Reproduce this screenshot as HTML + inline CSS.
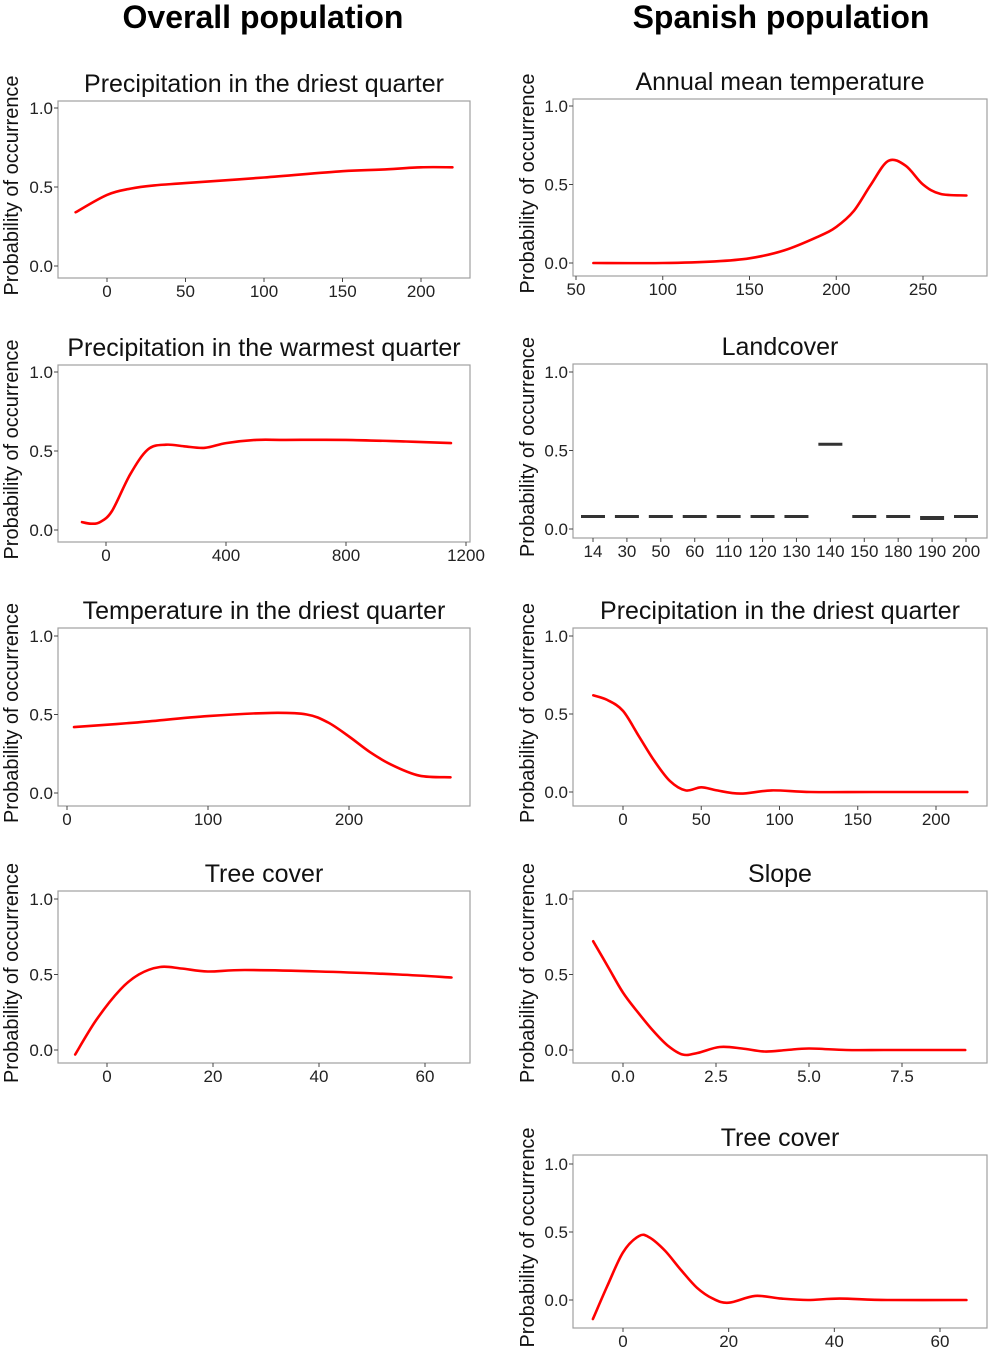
<!DOCTYPE html>
<html><head><meta charset="utf-8">
<style>
html,body{margin:0;padding:0;background:#fff;}
svg{display:block;font-family:"Liberation Sans",sans-serif;}
</style></head>
<body>
<svg id="fig" width="990" height="1358" viewBox="0 0 990 1358" xmlns="http://www.w3.org/2000/svg">
<text x="263" y="28" text-anchor="middle" font-size="32" font-weight="bold" fill="#000">Overall population</text>
<text x="781" y="28" text-anchor="middle" font-size="32" font-weight="bold" fill="#000">Spanish population</text>
</svg>
<script>
// ---- data arrays ----
const p1X=[-20,0,15,30,50,100,150,175,200,220];
const p1Y=[0.34,0.45,0.49,0.51,0.525,0.56,0.60,0.61,0.625,0.625];
const p1Ticks=[0,50,100,150,200];
const p2X=[-80,-50,-20,20,80,140,200,260,330,400,500,600,800,1000,1150];
const p2Y=[0.05,0.04,0.05,0.12,0.35,0.51,0.54,0.53,0.52,0.55,0.57,0.57,0.57,0.56,0.55];
const p2Ticks=[0,400,800,1200];
const p3X=[5,50,100,145,170,185,200,215,230,250,272];
const p3Y=[0.42,0.45,0.49,0.51,0.50,0.45,0.36,0.26,0.18,0.11,0.10];
const p3Ticks=[0,100,200];
const p4X=[-6,-2,2.5,6,10,14,19,26,40,55,65];
const p4Y=[-0.03,0.2,0.4,0.5,0.55,0.54,0.52,0.53,0.52,0.5,0.48];
const p4Ticks=[0,20,40,60];
const r1X=[60,100,130,150,170,190,200,210,220,230,240,250,260,275];
const r1Y=[0,0,0.01,0.03,0.08,0.17,0.23,0.33,0.5,0.65,0.62,0.5,0.44,0.43];
const r1Ticks=[50,100,150,200,250];
const landCats=["14","30","50","60","110","120","130","140","150","180","190","200"];
const landVals=[0.08,0.08,0.08,0.08,0.08,0.08,0.08,0.54,0.08,0.08,0.07,0.08];
const r3X=[-19,-10,0,10,20,30,40,50,60,75,95,120,160,220];
const r3Y=[0.62,0.59,0.52,0.36,0.2,0.07,0.01,0.03,0.01,-0.01,0.01,0,0,0];
const r3Ticks=[0,50,100,150,200];
const r4X=[-0.8,-0.4,0,0.4,0.8,1.2,1.6,2.0,2.6,3.2,3.8,4.4,5.0,6,7,8,9.2];
const r4Y=[0.72,0.55,0.38,0.25,0.13,0.03,-0.03,-0.02,0.02,0.01,-0.01,0,0.01,0,0,0,0];
const r4Ticks=[0,2.5,5,7.5];
const r4Labels=["0.0","2.5","5.0","7.5"];
const r5X=[-5.7,-3,0,3,5,8,11,14,17,20,25,30,35,41,50,65];
const r5Y=[-0.14,0.1,0.35,0.47,0.46,0.36,0.22,0.09,0.01,-0.02,0.03,0.01,0,0.01,0,0];
const r5Ticks=[0,20,40,60];
const yTicks=[0,0.5,1];
const yLabels=["0.0","0.5","1.0"];

const NS="http://www.w3.org/2000/svg";
const svg=document.getElementById('fig');
function mk(tag,attrs,parent){const e=document.createElementNS(NS,tag);for(const k in attrs)e.setAttribute(k,attrs[k]);(parent||svg).appendChild(e);return e;}
function smooth(pts){let d="M"+pts[0][0].toFixed(1)+","+pts[0][1].toFixed(1);
 for(let i=0;i<pts.length-1;i++){const p0=pts[i-1]||pts[i],p1=pts[i],p2=pts[i+1],p3=pts[i+2]||p2;
  const c1=[p1[0]+(p2[0]-p0[0])/6,p1[1]+(p2[1]-p0[1])/6],c2=[p2[0]-(p3[0]-p1[0])/6,p2[1]-(p3[1]-p1[1])/6];
  d+=" C"+c1[0].toFixed(1)+","+c1[1].toFixed(1)+" "+c2[0].toFixed(1)+","+c2[1].toFixed(1)+" "+p2[0].toFixed(1)+","+p2[1].toFixed(1);}
 return d;}

function panel(cfg){
 const g=mk('g',{});
 
 
 const [bx0,by0,bx1,by1]=cfg.box;
 const sy=v=>cfg.y0+(cfg.y1-cfg.y0)*v;
 const sx=cfg.sx;
 const t=mk('text',{x:(bx0+bx1)/2,y:by0-9,'text-anchor':'middle','font-size':25,fill:'#111'},g);
 t.textContent=cfg.title;
 
 
 const yt=mk('text',{x:0,y:0,'text-anchor':'middle','font-size':20,fill:'#111',transform:`translate(${cfg.ytx},${(by0+by1)/2-4}) rotate(-90)`},g);
 yt.textContent="Probability of occurrence";
 
 
 const r=mk('rect',{x:bx0,y:by0,width:bx1-bx0,height:by1-by0,fill:'#fff',stroke:'#a0a0a0','stroke-width':1.2},g);
 
 
 yTicks.forEach((v,i)=>{const y=sy(v);
  mk('line',{x1:bx0-4,x2:bx0,y1:y,y2:y,stroke:'#444','stroke-width':1},g);
  const l=mk('text',{x:bx0-5,y:y+6,'text-anchor':'end','font-size':17,fill:'#222'},g);
  l.textContent=yLabels[i];
  
  });
 cfg.xticks.forEach((v,i)=>{const x=sx(v);
  mk('line',{x1:x,x2:x,y1:by1,y2:by1+4,stroke:'#444','stroke-width':1},g);
  const l=mk('text',{x:x,y:by1+19,'text-anchor':'middle','font-size':17,fill:'#222'},g);
  l.textContent=cfg.xlabels?cfg.xlabels[i]:String(v);
  
  });
 if(cfg.xs){const pts=cfg.xs.map((x,i)=>[sx(x),sy(cfg.ys[i])]);
  const p=mk('path',{d:smooth(pts),fill:'none',stroke:'#f00','stroke-width':2.6,'stroke-linecap':'round'},g);
  
  }
 if(cfg.cats){cfg.vals.forEach((v,i)=>{const x=sx(i);
  const b=mk('line',{x1:x-12,x2:x+12,y1:sy(v),y2:sy(v),stroke:'#333','stroke-width':v<0.075?4:3},g);
  
  });}
}
function lin(a,pa,b,pb){return v=>pa+(v-a)*(pb-pa)/(b-a);}

panel({name:'overall-precip-driest',title:'Precipitation in the driest quarter',box:[58,101,470,278],y1:108,y0:266,ytx:18,sx:lin(0,107,200,421),xticks:p1Ticks,xs:p1X,ys:p1Y});
panel({name:'overall-precip-warmest',title:'Precipitation in the warmest quarter',box:[58,365,470,542],y1:372,y0:530,ytx:18,sx:lin(0,106,1200,466),xticks:p2Ticks,xs:p2X,ys:p2Y});
panel({name:'overall-temp-driest',title:'Temperature in the driest quarter',box:[58,628,470,806],y1:636,y0:793,ytx:18,sx:lin(0,67,200,349),xticks:p3Ticks,xs:p3X,ys:p3Y});
panel({name:'overall-tree-cover',title:'Tree cover',box:[58,891,470,1063],y1:899,y0:1050,ytx:18,sx:lin(0,107,60,425),xticks:p4Ticks,xs:p4X,ys:p4Y});
panel({name:'spanish-annual-temp',title:'Annual mean temperature',box:[573,99,987,276],y1:106,y0:263,ytx:534,sx:lin(50,576,250,923),xticks:r1Ticks,xs:r1X,ys:r1Y});
panel({name:'spanish-landcover',title:'Landcover',box:[573,364,987,538],y1:372,y0:529,ytx:534,sx:lin(0,593,11,966),xticks:landCats.map((c,i)=>i),xlabels:landCats,cats:landCats,vals:landVals});
panel({name:'spanish-precip-driest',title:'Precipitation in the driest quarter',box:[573,628,987,806],y1:636,y0:792,ytx:534,sx:lin(0,623,200,936),xticks:r3Ticks,xs:r3X,ys:r3Y});
panel({name:'spanish-slope',title:'Slope',box:[573,891,987,1063],y1:899,y0:1050,ytx:534,sx:lin(0,623,7.5,902),xticks:r4Ticks,xlabels:r4Labels,xs:r4X,ys:r4Y});
panel({name:'spanish-tree-cover',title:'Tree cover',box:[573,1155,987,1328],y1:1164,y0:1300,ytx:534,sx:lin(0,623,60,940),xticks:r5Ticks,xs:r5X,ys:r5Y});
</script>
</body></html>
